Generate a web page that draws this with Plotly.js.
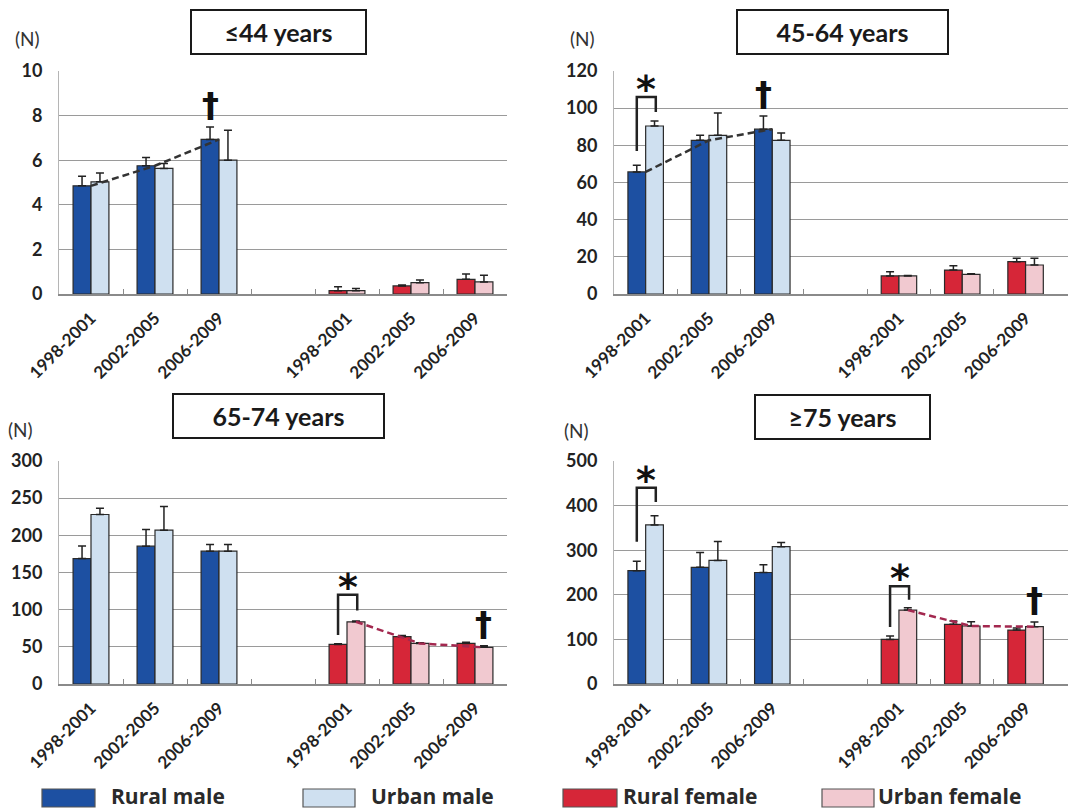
<!DOCTYPE html>
<html>
<head>
<meta charset="utf-8">
<script src="https://cdn.plot.ly/plotly-3.0.1.min.js"></script>
<style>html,body{margin:0;padding:0;background:#fff;}#chart{width:1068px;height:810px;}</style>
</head>
<body>
<div id="chart"></div>
<script>
// ---------- data ----------
const periods = ["1998-2001", "2002-2005", "2006-2009"];
const ageGroups = ["≤44 years", "45-64 years", "65-74 years", "≥75 years"];
const seriesNames = ["Rural male", "Urban male", "Rural female", "Urban female"];

// per panel (age group) x per period
const ruralMale      = [[4.85, 5.75, 6.93], [65.7, 82.7, 88.7], [168.8, 185.4, 178.7], [254, 261.5, 250]];
const ruralMaleErr   = [[0.43, 0.37, 0.56], [3.6, 2.7, 7.1], [17, 22.4, 8.9], [21, 33.5, 17.5]];
const urbanMale      = [[5.03, 5.63, 6.0], [90.4, 85.4, 82.7], [228, 206.9, 178.7], [356.6, 277, 308]];
const urbanMaleErr   = [[0.4, 0.22, 1.34], [2.7, 12, 4], [8.4, 32, 8.9], [20.8, 42.5, 9]];
const ruralFemale    = [[0.15, 0.36, 0.66], [9.7, 12.9, 17.4], [53.3, 63.6, 54.6], [100, 133.7, 121]];
const ruralFemaleErr = [[0.18, 0.04, 0.24], [2.3, 2.3, 1.8], [0.8, 1.8, 1.4], [7.7, 7.3, 4.6]];
const urbanFemale    = [[0.15, 0.51, 0.54], [9.7, 10.6, 15.6], [83.7, 54.6, 49.3], [165.7, 130, 128.5]];
const urbanFemaleErr = [[0.1, 0.12, 0.3], [0.3, 0.3, 3.6], [0.9, 0.9, 2.2], [5.3, 9.7, 10.5]];

const yMax  = [10, 120, 300, 500];
const yStep = [2, 20, 50, 100];

// trend (dashed line) series per panel
const trendSeries = ["ruralMale", "ruralMale", "urbanFemale", "urbanFemale"];
// dagger marks: panel, series, period
const daggerMarks = [[0, "ruralMale", 2], [1, "ruralMale", 2], [2, "urbanFemale", 2], [3, "urbanFemale", 2]];
// significance brackets: panel, sex, period, left foot, top, right foot (data units)
const bracketMarks = [
  [1, "male", 0, 77, 106, 98],
  [3, "male", 0, 319, 440, 408],
  [2, "female", 0, 66, 120, 99],
  [3, "female", 0, 128, 219, 189]
];

// ---------- style ----------
const colors = { ruralMale: "#1d50a2", urbanMale: "#cfe0f0", ruralFemale: "#d62638", urbanFemale: "#f1c9d0" };
const values = { ruralMale, urbanMale, ruralFemale, urbanFemale };
const errs = { ruralMale: ruralMaleErr, urbanMale: urbanMaleErr, ruralFemale: ruralFemaleErr, urbanFemale: urbanFemaleErr };
const catPos = { male: [0, 1, 2], female: [4, 5, 6] };
const seriesSex = { ruralMale: "male", urbanMale: "male", ruralFemale: "female", urbanFemale: "female" };
const seriesOff = { ruralMale: -0.14, urbanMale: 0.14, ruralFemale: -0.14, urbanFemale: 0.14 };
const BW = 0.28;
const W = 1068, H = 810;
const px = v => v / W, py = v => 1 - v / H;

const FONT = "Lato, 'Open Sans', sans-serif";

const panelGeom = [
  { x: [59, 507], y: [71, 294], range: [-0.5, 6.5] },
  { x: [614, 1068], y: [71, 294], range: [-0.5, 6.67] },
  { x: [59, 507], y: [461, 684], range: [-0.5, 6.5] },
  { x: [614, 1068], y: [461, 684], range: [-0.5, 6.67] }
];
const titleBox = [
  { cx: 278, cy: 32, w: 177 },
  { cx: 842, cy: 32, w: 213 },
  { cx: 278, cy: 416, w: 213 },
  { cx: 842, cy: 417, w: 177 }
];
const nLabel = [[27, 38], [583, 38], [20, 429], [576, 430]];

const traces = [];
const annotations = [];
const shapes = [];
const layout = {
  width: W, height: H,
  margin: { l: 0, r: 0, t: 0, b: 0 },
  paper_bgcolor: "#fff", plot_bgcolor: "#fff",
  showlegend: false,
  barmode: "overlay",
  font: { family: FONT, color: "#222" }
};

for (let p = 0; p < 4; p++) {
  const xa = p === 0 ? "x" : "x" + (p + 1);
  const ya = p === 0 ? "y" : "y" + (p + 1);
  const g = panelGeom[p];
  ["ruralMale", "urbanMale", "ruralFemale", "urbanFemale"].forEach((s, si) => {
    const sex = seriesSex[s];
    traces.push({
      type: "bar",
      name: seriesNames[si],
      x: catPos[sex].map(c => c + seriesOff[s]),
      y: values[s][p],
      width: BW,
      xaxis: xa, yaxis: ya,
      marker: { color: colors[s], line: { color: "#2a2a2a", width: 1.2 } },
      error_y: { type: "data", symmetric: false, array: errs[s][p], arrayminus: [0, 0, 0], color: "#222", thickness: 1.5, width: 4 },
      hoverinfo: "skip"
    });
  });
  // dashed trend line
  const ts = trendSeries[p];
  const tsex = seriesSex[ts];
  traces.push({
    type: "scatter", mode: "lines",
    x: catPos[tsex].map(c => c + (tsex === "male" ? 0 : seriesOff[ts])),
    y: values[ts][p],
    xaxis: xa, yaxis: ya,
    line: { color: tsex === "male" ? "#333" : "#a3284f", width: 2.5, dash: "7px,4px" },
    hoverinfo: "skip"
  });

  const xaxName = p === 0 ? "xaxis" : "xaxis" + (p + 1);
  const yaxName = p === 0 ? "yaxis" : "yaxis" + (p + 1);
  layout[xaxName] = {
    domain: [px(g.x[0]), px(g.x[1])],
    anchor: ya,
    range: g.range,
    tickmode: "array",
    tickvals: [0, 1, 2, 4, 5, 6],
    ticktext: periods.concat(periods),
    tickangle: -45,
    tickfont: { family: FONT, size: 17, weight: "bold", color: "#222" },
    ticks: "",
    ticklabelstandoff: 6,
    showgrid: false,
    zeroline: false,
    showline: true, linecolor: "#8a8a8a", linewidth: 1.5,
    minor: { tickmode: "array", tickvals: [0.5, 1.5, 2.5, 3.5, 4.5, 5.5], ticks: "inside", ticklen: 5, tickcolor: "#8a8a8a", tickwidth: 1, showgrid: false },
    fixedrange: true
  };
  layout[yaxName] = {
    domain: [py(g.y[1]), py(g.y[0])],
    anchor: xa,
    range: [0, yMax[p]],
    dtick: yStep[p],
    tick0: 0,
    showgrid: true, gridcolor: "#9a9a9a", gridwidth: 1,
    zeroline: false,
    showline: true, linecolor: "#b5b5b5", linewidth: 1,
    ticks: "",
    ticklabelstandoff: 12,
    tickfont: { family: FONT, size: 18, weight: "bold", color: "#222" },
    fixedrange: true
  };

  // title box
  const tb = titleBox[p];
  annotations.push({
    xref: "paper", yref: "paper", x: px(tb.cx), y: py(tb.cy), xanchor: "center", yanchor: "middle",
    text: ageGroups[p], showarrow: false, width: tb.w - 4, height: 42,
    font: { family: FONT, size: 25, weight: "bold", color: "#1a1a1a" },
    bordercolor: "#1a1a1a", borderwidth: 2, borderpad: 0, bgcolor: "#fff"
  });
  // (N)
  annotations.push({
    xref: "paper", yref: "paper", x: px(nLabel[p][0]), y: py(nLabel[p][1]), xanchor: "center", yanchor: "middle",
    text: "(N)", showarrow: false, font: { family: FONT, size: 19, color: "#333" }
  });
}

// daggers
daggerMarks.forEach(([p, s, k]) => {
  const xa = p === 0 ? "x" : "x" + (p + 1);
  const ya = p === 0 ? "y" : "y" + (p + 1);
  const sex = seriesSex[s];
  annotations.push({
    xref: xa, yref: ya,
    x: catPos[sex][k] + seriesOff[s],
    y: values[s][p][k] + errs[s][p][k],
    xanchor: "center", yanchor: "bottom", yshift: 0,
    text: "†", showarrow: false,
    font: { family: "DejaVu Sans", size: 34, weight: "bold", color: "#111" }
  });
});

// brackets + asterisks
bracketMarks.forEach(([p, sex, k, lf, top, rf]) => {
  const xa = p === 0 ? "x" : "x" + (p + 1);
  const ya = p === 0 ? "y" : "y" + (p + 1);
  const c = catPos[sex][k];
  const xl = c - 0.14, xr = c + 0.16;
  shapes.push({
    type: "path", xref: xa, yref: ya,
    path: `M ${xl},${lf} L ${xl},${top} L ${xr},${top} L ${xr},${rf}`,
    line: { color: "#222", width: 2.5 }
  });
  annotations.push({
    xref: xa, yref: ya, x: (xl + xr) / 2, y: top,
    xanchor: "center", yanchor: "bottom", yshift: -16,
    text: "*", showarrow: false,
    font: { family: "DejaVu Sans", size: 38, weight: "bold", color: "#111" }
  });
});

// legend (drawn)
const legendItems = [
  { key: "ruralMale", x0: 42, x1: 95, tx: 109 },
  { key: "urbanMale", x0: 303, x1: 355, tx: 369 },
  { key: "ruralFemale", x0: 563, x1: 617, tx: 621 },
  { key: "urbanFemale", x0: 822, x1: 874, tx: 876 }
];
legendItems.forEach((it, i) => {
  shapes.push({
    type: "rect", xref: "paper", yref: "paper",
    x0: px(it.x0), x1: px(it.x1), y0: py(807), y1: py(789),
    fillcolor: colors[it.key], line: { color: "#555", width: 1.2 }
  });
  annotations.push({
    xref: "paper", yref: "paper", x: px(it.tx), y: py(796), xanchor: "left", yanchor: "middle",
    text: seriesNames[i], showarrow: false,
    font: { family: "'Open Sans', sans-serif", size: 21, weight: "bold", color: "#2a2a2a" }
  });
});

layout.annotations = annotations;
layout.shapes = shapes;

Plotly.newPlot("chart", traces, layout, { staticPlot: true, displayModeBar: false });
</script>
</body>
</html>
